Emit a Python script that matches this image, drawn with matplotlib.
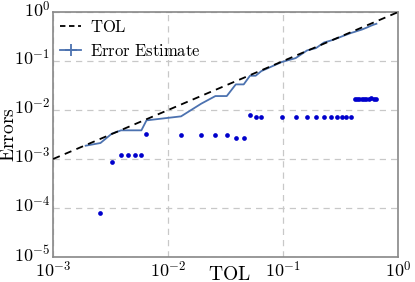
import matplotlib
matplotlib.use("Agg")
import matplotlib.pyplot as plt
import matplotlib.transforms as mtransforms
from matplotlib.lines import Line2D
import numpy as np

plt.rcParams['mathtext.fontset'] = 'cm'
plt.rcParams['font.family'] = ['DejaVu Serif']

tol_line = [1e-3, 1.0]

est_tol = [0.00192, 0.00258, 0.00324, 0.0039, 0.00452, 0.00516, 0.00586, 0.00649,
           0.01297, 0.0194, 0.0258, 0.0324, 0.0388, 0.0455, 0.0516, 0.0578, 0.0648,
           0.0973, 0.1288, 0.1617, 0.1935, 0.2274, 0.2597, 0.293, 0.324, 0.355, 0.390,
           0.420, 0.440, 0.462, 0.485, 0.508, 0.532, 0.558, 0.585, 0.615, 0.649]
est_err = [0.00187, 0.00212, 0.00329, 0.00385, 0.00385, 0.00385, 0.00385, 0.00615,
           0.00743, 0.01346, 0.0193, 0.0193, 0.0334, 0.0334, 0.0502, 0.0502, 0.0625,
           0.0955, 0.115, 0.165, 0.184, 0.240, 0.262, 0.290, 0.318, 0.345, 0.375,
           0.395, 0.410, 0.425, 0.440, 0.460, 0.480, 0.505, 0.530, 0.555, 0.578]

err_tol = est_tol[1:]
err_val = [7.9e-5, 8.8e-4, 1.19e-3, 1.19e-3, 1.19e-3, 1.19e-3, 3.24e-3,
           3.04e-3, 3.04e-3, 3.04e-3, 3.04e-3, 2.72e-3, 2.72e-3, 7.78e-3, 7.31e-3, 7.31e-3,
           7.31e-3, 7.31e-3, 7.31e-3, 7.31e-3, 7.31e-3, 7.31e-3, 7.31e-3, 7.31e-3, 7.31e-3, 7.31e-3,
           0.0171, 0.0171, 0.0171, 0.0171, 0.0168, 0.0171, 0.0171, 0.0175, 0.0171, 0.0171]

fig = plt.figure(figsize=(4.15, 2.82), dpi=100)
ax = fig.add_axes([0.128, 0.089, 0.831, 0.868])
ax.set_xscale('log')
ax.set_yscale('log')
ax.set_xlim(1e-3, 1.0)
ax.set_ylim(1e-5, 1.0)

ax.plot(tol_line, tol_line, 'k--', lw=1.3, dashes=(4, 3), zorder=3)
ax.plot(est_tol, est_err, color='#4c72b0', lw=1.3, zorder=2)
ax.plot(err_tol, err_val, 'o', color='#0000cc', ms=3.4, mec='none', zorder=4)

ax.grid(True, which='major', ls=(0, (5, 4)), color='#c8c8c8', lw=0.9)
ax.minorticks_off()
for s in ax.spines.values():
    s.set_color('#888888')
    s.set_linewidth(1.2)
ax.tick_params(which='both', length=0, labelsize=13)
ax.tick_params(axis='x', pad=3)
ax.tick_params(axis='y', pad=2)
ax.set_xticks([1e-3, 1e-2, 1e-1, 1e0])
ax.set_xticklabels([r'$10^{-3}$', r'$10^{-2}$', r'$10^{-1}$', r'$10^{0}$'])
ax.set_yticks([1e-5, 1e-4, 1e-3, 1e-2, 1e-1, 1e0])
ax.set_yticklabels([r'$10^{-5}$', r'$10^{-4}$', r'$10^{-3}$', r'$10^{-2}$', r'$10^{-1}$', r'$10^{0}$'],
                   va='center_baseline')
shift = mtransforms.ScaledTranslation(0, 2.5 / 72, fig.dpi_scale_trans)
for lab in ax.get_yticklabels():
    lab.set_transform(lab.get_transform() + shift)

ax.set_xlabel(r'$\mathrm{TOL}$', fontsize=14, va='center')
ax.xaxis.set_label_coords(0.51, -0.072)
ax.set_ylabel(r'$\mathrm{Errors}$', fontsize=14, va='center')
ax.yaxis.set_label_coords(-0.127, 0.5)

handles = [Line2D([], [], color='k', ls='--', lw=1.3, dashes=(3, 2)),
           Line2D([], [], color='#4c72b0', lw=1.3, marker='+', ms=8, mew=1.3)]
ax.legend(handles, [r'$\mathrm{TOL}$', r'$\mathrm{Error\ Estimate}$'], loc='upper left',
          frameon=False, fontsize=12, handlelength=1.3, handletextpad=0.5,
          borderaxespad=0.15, borderpad=0.25, labelspacing=0.45)

fig.savefig('out.png', dpi=100)
